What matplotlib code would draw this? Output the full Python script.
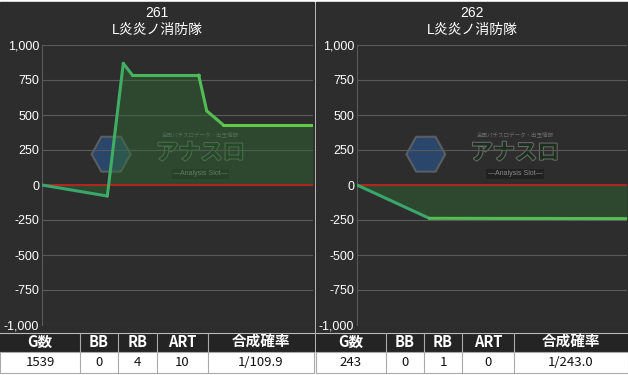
import numpy as np
import matplotlib.pyplot as plt
from matplotlib.patches import Rectangle, RegularPolygon
from matplotlib.collections import LineCollection
from matplotlib.ticker import FuncFormatter
from matplotlib.colors import LinearSegmentedColormap
import matplotlib.patheffects as pe

plt.rcParams['font.family'] = ['Liberation Sans', 'Noto Sans CJK JP', 'DejaVu Sans']

# 台データ
titulos = ['261', '262']
maquina = 'L炎炎ノ消防隊'

# posicion relativa en el eje x (0 a 1) y diferencia de medallas
x_261 = [0, 0.241, 0.300, 0.333, 0.578, 0.608, 0.669, 1.0]
y_261 = [0, -79, 869, 786, 786, 529, 429, 429]
x_262 = [0, 0.268, 1.0]
y_262 = [0, -238, -240]

columnas = ['G数', 'BB', 'RB', 'ART', '合成確率']
fila_261 = ['1539', '0', '4', '10', '1/109.9']
fila_262 = ['243', '0', '1', '0', '1/243.0']

W, H = 628, 375
fig = plt.figure(figsize=(W / 100, H / 100), dpi=100)
fig.patch.set_facecolor('white')

# eje de fondo en pixeles
bg = fig.add_axes([0, 0, 1, 1])
bg.set_xlim(0, W)
bg.set_ylim(H, 0)
bg.axis('off')

fondo = '#2d2d2d'
cmap = LinearSegmentedColormap.from_list('verde', ['#33a070', '#4bb85a', '#6ad13a'])
tabla_font = ['Noto Sans CJK JP', 'DejaVu Sans']

paneles = [
    dict(x0=0, x1=314, ax0=42, tit=titulos[0], xs=x_261, ys=y_261, fila=fila_261,
         cols=[0, 80, 118, 157, 208, 314]),
    dict(x0=316, x1=628, ax0=357, tit=titulos[1], xs=x_262, ys=y_262, fila=fila_262,
         cols=[316, 386, 424, 462, 514, 628]),
]

def fmt(v, pos):
    return '{:,}'.format(int(v))

for p in paneles:
    bg.add_patch(Rectangle((p['x0'], 2), p['x1'] - p['x0'], 331, color=fondo, zorder=0))
    cx = (p['x0'] + p['x1']) / 2
    bg.text(cx, 13, p['tit'], color='white', fontsize=10, ha='center', va='center')
    bg.text(cx, 30, maquina, color='white', fontsize=10, ha='center', va='center')

    # tabla
    c = p['cols']
    bg.add_patch(Rectangle((p['x0'], 333), p['x1'] - p['x0'], 19, color='#242424', zorder=1))
    bg.add_patch(Rectangle((p['x0'], 352), p['x1'] - p['x0'], 21, facecolor='white',
                           edgecolor='#aaaaaa', lw=0.8, zorder=1))
    bg.plot([p['x0'], p['x1']], [333, 333], color='#bbbbbb', lw=0.8, zorder=2)
    for i in range(len(columnas)):
        mx = (c[i] + c[i + 1]) / 2
        bg.text(mx, 342, columnas[i], color='white', fontsize=10.5, fontweight='bold',
                ha='center', va='center', zorder=3, family=tabla_font)
        bg.text(mx, 362.5, p['fila'][i], color='#111111', fontsize=9.5,
                ha='center', va='center', zorder=3, family=tabla_font)
        if i > 0:
            bg.plot([c[i], c[i]], [333, 373], color='#aaaaaa', lw=0.8, zorder=2)

    # grafico
    ax = fig.add_axes([p['ax0'] / W, 1 - 325 / H, (p['x1'] - 1 - p['ax0']) / W, 280 / H])
    ax.set_facecolor(fondo)
    ax.set_xlim(0, 1)
    ax.set_ylim(-1000, 1000)
    ax.set_yticks(np.arange(-1000, 1001, 250))
    ax.yaxis.set_major_formatter(FuncFormatter(fmt))
    ax.set_xticks([])
    ax.grid(axis='y', color='#5a5a5a', lw=0.8)
    for s in ['top', 'right', 'bottom']:
        ax.spines[s].set_visible(False)
    ax.spines['left'].set_color('#5a5a5a')
    ax.tick_params(axis='y', colors='white', labelsize=9, length=0, pad=2)

    # marca de agua
    hexa = RegularPolygon((0.255, 0.61), 6, radius=0.072, orientation=np.pi / 6,
                          transform=ax.transAxes, fc='#2a4f80', ec='#6a6a6a', lw=1.5,
                          alpha=0.75, zorder=1)
    ax.add_patch(hexa)
    ax.text(0.585, 0.615, 'アナスロ', transform=ax.transAxes, color='#1c2e1e',
            fontsize=16, fontweight='bold', ha='center', va='center',
            zorder=1, family=tabla_font,
            path_effects=[pe.withStroke(linewidth=1.5, foreground='#6a6a6a')])
    ax.text(0.585, 0.682, '全国パチスロデータ・出玉情報', transform=ax.transAxes,
            color='#6a6a6a', fontsize=4, ha='center', va='center', zorder=1,
            family=tabla_font)
    ax.text(0.585, 0.54, '—Analysis Slot—', transform=ax.transAxes, color='#8a8a8a',
            fontsize=5, ha='center', va='center', zorder=1,
            bbox=dict(boxstyle='square,pad=0.2', fc='#1e1e1e', ec='none', alpha=0.8))

    xs = np.array(p['xs'])
    ys = np.array(p['ys'])
    ax.fill_between(xs, ys, 0, color='#2f6b32', alpha=0.45, lw=0, zorder=2)
    ax.axhline(0, color='#b3261e', lw=1.4, zorder=3)
    segs = [[(xs[i], ys[i]), (xs[i + 1], ys[i + 1])] for i in range(len(xs) - 1)]
    mids = (xs[:-1] + xs[1:]) / 2
    lc = LineCollection(segs, colors=cmap(mids), lw=2.2, capstyle='round',
                        joinstyle='round', zorder=4)
    ax.add_collection(lc)

fig.savefig('out.png', dpi=100, facecolor=fig.get_facecolor())
